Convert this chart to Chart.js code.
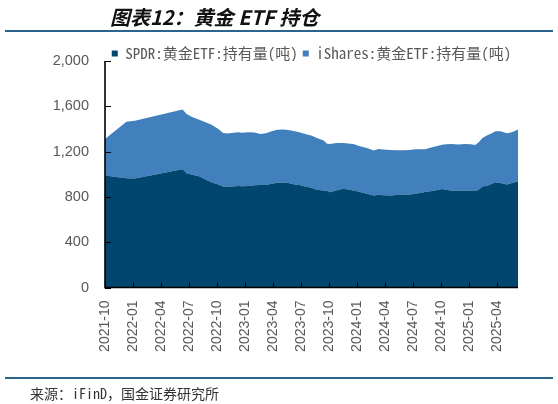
<!DOCTYPE html>
<html>
<head>
<meta charset="utf-8">
<script src="https://cdn.jsdelivr.net/npm/chart.js@4/dist/chart.umd.min.js"></script>
<style>
  html, body { margin: 0; padding: 0; background: #fff; }
  #wrap { position: relative; width: 558px; height: 404px; overflow: hidden; }
  #c { position: absolute; left: 0; top: 0; }
  #title { position: absolute; left: 110px; top: 2px; font: italic bold 20px "Noto Sans CJK SC", sans-serif; color: #111; white-space: nowrap; }
  .rule { position: absolute; left: 5px; width: 548px; height: 2px; background: #2b648c; }
  #src { position: absolute; left: 30px; top: 383px; font: 14px "Noto Sans Mono CJK SC", "Noto Sans CJK SC", monospace; color: #333; white-space: nowrap; }
</style>
</head>
<body>
<div id="wrap">
  <canvas id="c" width="558" height="404" style="width:558px;height:404px"></canvas>
  <div id="title">图表12：黄金 ETF 持仓</div>
  <div class="rule" style="top:30px"></div>
  <div class="rule" style="top:377px"></div>
  <div id="src">来源：iFinD，国金证券研究所</div>
</div>
<script>
const seriesNames = ['SPDR:黄金ETF:持有量(吨)', 'iShares:黄金ETF:持有量(吨)'];
const tickLabels = ['2021-10','2022-01','2022-04','2022-07','2022-10','2023-01','2023-04','2023-07','2023-10','2024-01','2024-04','2024-07','2024-10','2025-01','2025-04'];
const yTicks = [0, 400, 800, 1200, 1600, 2000];
const dates = [
  '2021-10-01','2021-12-10','2022-01-07','2022-06-10','2022-06-23','2022-07-09','2022-07-22','2022-08-06','2022-08-22','2022-09-13',
  '2022-10-05','2022-10-21','2022-11-04','2022-11-18','2022-12-09','2022-12-22','2023-01-12','2023-02-01','2023-02-19','2023-03-08',
  '2023-03-27','2023-04-14','2023-05-04','2023-05-20','2023-06-11','2023-06-25','2023-07-14','2023-08-03','2023-08-22','2023-09-13',
  '2023-09-24','2023-10-04','2023-10-18','2023-11-01','2023-11-17','2023-12-01','2023-12-19','2024-01-10','2024-02-02','2024-02-23',
  '2024-03-09','2024-03-25','2024-04-17','2024-05-08','2024-05-30','2024-06-18','2024-07-10','2024-08-09','2024-09-01','2024-09-18',
  '2024-10-03','2024-10-18','2024-11-05','2024-11-25','2024-12-18','2025-01-05','2025-01-20','2025-02-01','2025-02-12','2025-02-28',
  '2025-03-12','2025-03-25','2025-04-10','2025-05-02','2025-05-18','2025-06-07'
];
const spdr = [
  989,965,963,1045,1009,998,990,980,955,930,
  910,892,888,892,897,893,897,902,904,905,
  916,925,927,922,910,905,892,881,863,857,
  852,840,852,863,872,866,857,843,828,813,
  819,815,813,816,819,822,828,843,852,862,
  869,862,857,855,857,855,852,863,892,901,
  915,930,922,910,922,939
];
const ishares = [
  323,499,509,527,522,510,505,498,507,507,
  489,472,472,472,473,473,473,466,451,457,
  463,467,469,468,469,465,463,462,457,440,
  418,428,422,413,404,406,411,404,404,396,
  404,403,402,396,393,393,392,377,386,388,
  392,403,411,407,411,409,406,419,428,445,
  445,449,457,451,448,457
];

function toM(s) {
  const p = s.split('-').map(Number);
  const dim = new Date(p[0], p[1], 0).getDate();
  return (p[0] - 2021) * 12 + (p[1] - 10) + ((p[2] || 1) - 1) / dim;
}
const xs = dates.map(toM);
const tickPos = tickLabels.map(l => toM(l + '-01'));

const axisPlugin = {
  id: 'axisPlugin',
  afterDatasetsDraw(chart) {
    const ctx = chart.ctx, a = chart.chartArea;
    const xS = chart.scales.x, yS = chart.scales.y;
    ctx.save();
    ctx.strokeStyle = '#000';
    ctx.lineWidth = 1;
    ctx.beginPath();
    yTicks.forEach(v => { const y = Math.round(yS.getPixelForValue(v)) + 0.5; ctx.moveTo(a.left, y); ctx.lineTo(a.left + 6, y); });
    tickPos.forEach(v => { const x = Math.round(xS.getPixelForValue(v)) + 0.5; ctx.moveTo(x, a.bottom); ctx.lineTo(x, a.bottom - 5); });
    ctx.stroke();
    ctx.lineWidth = 1.6;
    ctx.beginPath();
    ctx.moveTo(a.left, yS.getPixelForValue(2000));
    ctx.lineTo(a.left, a.bottom);
    ctx.lineTo(a.right, a.bottom);
    ctx.stroke();
    ctx.restore();
  }
};

const chart = new Chart(document.getElementById('c'), {
  type: 'line',
  data: {
    datasets: [
      { label: seriesNames[0], data: xs.map((x, i) => ({ x, y: spdr[i] })), backgroundColor: '#00466e', borderColor: '#00466e', borderWidth: 0, fill: 'origin', pointRadius: 0, tension: 0 },
      { label: seriesNames[1], data: xs.map((x, i) => ({ x, y: ishares[i] })), backgroundColor: '#4180bc', borderColor: '#4180bc', borderWidth: 0, fill: '-1', pointRadius: 0, tension: 0 }
    ]
  },
  options: {
    responsive: false,
    animation: false,
    layout: { padding: { top: 41, right: 40, left: 0, bottom: 0 } },
    plugins: {
      legend: {
        fullSize: false,
        labels: {
          boxWidth: 6, boxHeight: 6, padding: 5,
          color: '#595959',
          font: { family: '"Noto Sans Mono CJK SC", "Noto Sans CJK SC", monospace', size: 15 }
        }
      },
      tooltip: { enabled: false }
    },
    scales: {
      x: {
        type: 'linear',
        min: 0,
        max: xs[xs.length - 1],
        afterBuildTicks(s) { s.ticks = tickPos.map(v => ({ value: v })); },
        afterFit(s) { s.height = 404 - 287.5; },
        grid: { display: false, drawTicks: false },
        border: { display: false },
        ticks: {
          autoSkip: false, maxRotation: 90, minRotation: 90, padding: 13,
          color: '#595959',
          font: { family: '"Liberation Sans", Arial, sans-serif', size: 14 },
          callback: (v, i) => tickLabels[i]
        }
      },
      y: {
        stacked: true,
        min: 0, max: 2000,
        afterBuildTicks(s) { s.ticks = yTicks.map(v => ({ value: v })); },
        afterFit(s) { s.width = 105; },
        grid: { display: false, drawTicks: false },
        border: { display: false },
        ticks: {
          padding: 16,
          color: '#595959',
          font: { family: '"Liberation Sans", Arial, sans-serif', size: 14.5 },
          callback: v => v.toLocaleString('en-US')
        }
      }
    }
  },
  plugins: [axisPlugin]
});
const origFit = chart.legend.fit;
chart.legend.fit = function () { origFit.call(this); this.height = 20; };
chart.update('none');
</script>
</body>
</html>
